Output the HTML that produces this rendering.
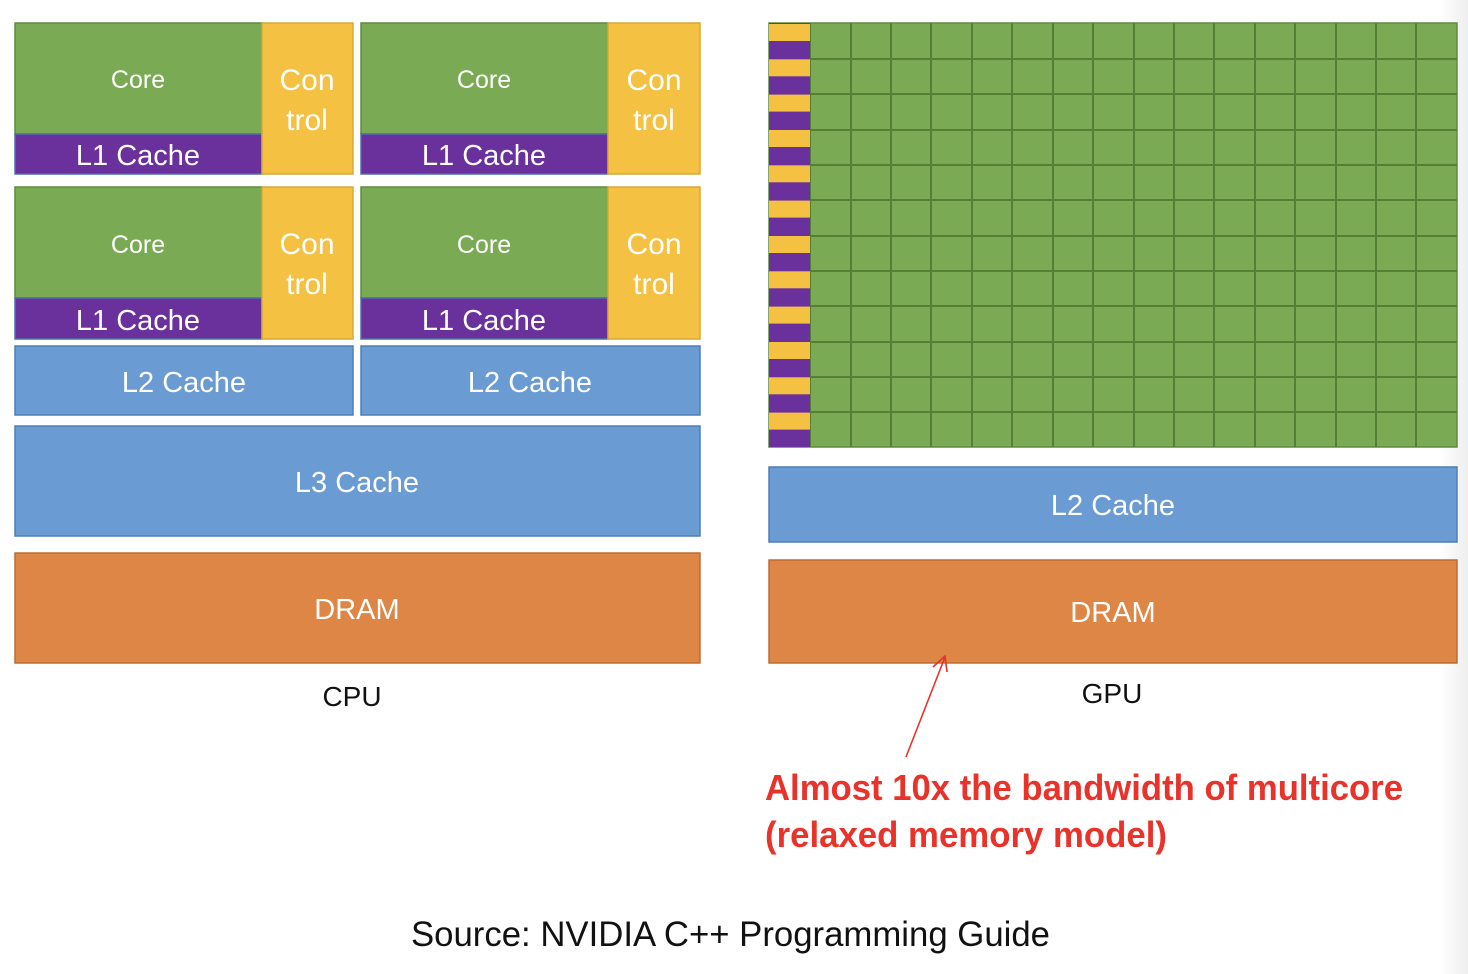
<!DOCTYPE html>
<html><head><meta charset="utf-8"><style>html,body{margin:0;padding:0;background:#fff}svg{display:block}</style></head><body>
<svg width="1468" height="974" viewBox="0 0 1468 974" xmlns="http://www.w3.org/2000/svg" font-family="Liberation Sans, sans-serif">
<defs><linearGradient id="sh" x1="0" x2="1"><stop offset="0" stop-color="#fff"/><stop offset="1" stop-color="#eeeeee"/></linearGradient></defs>
<rect x="1440" y="0" width="28" height="974" fill="url(#sh)"/>
<g id="cpu" fill="#fff" text-anchor="middle">
<!-- block 1 -->
<rect x="15" y="23" width="247" height="111" fill="#7aab54" stroke="#5f8c3f" stroke-width="1.5"/>
<rect x="15" y="134" width="247" height="40" fill="#6a309c" stroke="#4f6fa8" stroke-width="1.5"/>
<rect x="262" y="23" width="91" height="151" fill="#f4c143" stroke="#d9a838" stroke-width="1.5"/>
<text x="138" y="88" font-size="25">Core</text><text x="138" y="165" font-size="29">L1 Cache</text>
<text x="307" y="90" font-size="30">Con</text><text x="307" y="130" font-size="30">trol</text>
<!-- block 2 -->
<rect x="361" y="23" width="247" height="111" fill="#7aab54" stroke="#5f8c3f" stroke-width="1.5"/>
<rect x="361" y="134" width="247" height="40" fill="#6a309c" stroke="#4f6fa8" stroke-width="1.5"/>
<rect x="608" y="23" width="92" height="151" fill="#f4c143" stroke="#d9a838" stroke-width="1.5"/>
<text x="484" y="88" font-size="25">Core</text><text x="484" y="165" font-size="29">L1 Cache</text>
<text x="654" y="90" font-size="30">Con</text><text x="654" y="130" font-size="30">trol</text>
<!-- block 3 -->
<rect x="15" y="187" width="247" height="111" fill="#7aab54" stroke="#5f8c3f" stroke-width="1.5"/>
<rect x="15" y="298" width="247" height="41" fill="#6a309c" stroke="#4f6fa8" stroke-width="1.5"/>
<rect x="262" y="187" width="91" height="152" fill="#f4c143" stroke="#d9a838" stroke-width="1.5"/>
<text x="138" y="253" font-size="25">Core</text><text x="138" y="330" font-size="29">L1 Cache</text>
<text x="307" y="254" font-size="30">Con</text><text x="307" y="294" font-size="30">trol</text>
<!-- block 4 -->
<rect x="361" y="187" width="247" height="111" fill="#7aab54" stroke="#5f8c3f" stroke-width="1.5"/>
<rect x="361" y="298" width="247" height="41" fill="#6a309c" stroke="#4f6fa8" stroke-width="1.5"/>
<rect x="608" y="187" width="92" height="152" fill="#f4c143" stroke="#d9a838" stroke-width="1.5"/>
<text x="484" y="253" font-size="25">Core</text><text x="484" y="330" font-size="29">L1 Cache</text>
<text x="654" y="254" font-size="30">Con</text><text x="654" y="294" font-size="30">trol</text>
<!-- L2/L3/DRAM -->
<rect x="15" y="346" width="338" height="69" fill="#6a9bd2" stroke="#4f7eb5" stroke-width="1.5"/>
<rect x="361" y="346" width="339" height="69" fill="#6a9bd2" stroke="#4f7eb5" stroke-width="1.5"/>
<text x="184" y="392" font-size="29">L2 Cache</text><text x="530" y="392" font-size="29">L2 Cache</text>
<rect x="15" y="426" width="685" height="110" fill="#6a9bd2" stroke="#4f7eb5" stroke-width="1.5"/>
<text x="357" y="492" font-size="29">L3 Cache</text>
<rect x="15" y="553" width="685" height="110" fill="#de8645" stroke="#bd6c32" stroke-width="1.5"/>
<text x="357" y="619" font-size="29">DRAM</text>
<text x="352" y="706" font-size="28" fill="#111">CPU</text>
</g>
<g id="gpu">
<rect x="769" y="23" width="688" height="424" fill="#7aab54" stroke="#5f8c3f" stroke-width="1.5"/>
<g stroke="#557f37" stroke-width="2">
<line x1="810" y1="23" x2="810" y2="447"/><line x1="851" y1="23" x2="851" y2="447"/><line x1="891" y1="23" x2="891" y2="447"/><line x1="931" y1="23" x2="931" y2="447"/><line x1="972" y1="23" x2="972" y2="447"/><line x1="1012" y1="23" x2="1012" y2="447"/><line x1="1053" y1="23" x2="1053" y2="447"/><line x1="1093" y1="23" x2="1093" y2="447"/><line x1="1134" y1="23" x2="1134" y2="447"/><line x1="1174" y1="23" x2="1174" y2="447"/><line x1="1214" y1="23" x2="1214" y2="447"/><line x1="1255" y1="23" x2="1255" y2="447"/><line x1="1295" y1="23" x2="1295" y2="447"/><line x1="1336" y1="23" x2="1336" y2="447"/><line x1="1376" y1="23" x2="1376" y2="447"/><line x1="1416" y1="23" x2="1416" y2="447"/>
<line x1="810" y1="59" x2="1457" y2="59"/><line x1="810" y1="94" x2="1457" y2="94"/><line x1="810" y1="130" x2="1457" y2="130"/><line x1="810" y1="165" x2="1457" y2="165"/><line x1="810" y1="200" x2="1457" y2="200"/><line x1="810" y1="236" x2="1457" y2="236"/><line x1="810" y1="271" x2="1457" y2="271"/><line x1="810" y1="306" x2="1457" y2="306"/><line x1="810" y1="342" x2="1457" y2="342"/><line x1="810" y1="377" x2="1457" y2="377"/><line x1="810" y1="412" x2="1457" y2="412"/>
</g>
<g>
<rect x="769" y="23" width="41" height="424" fill="#6a309c"/>
<g fill="#f4c143">
<rect x="769" y="24" width="41" height="17"/><rect x="769" y="59.3" width="41" height="17"/><rect x="769" y="94.6" width="41" height="17"/><rect x="769" y="130" width="41" height="17"/><rect x="769" y="165.3" width="41" height="17"/><rect x="769" y="200.6" width="41" height="17"/><rect x="769" y="236" width="41" height="17"/><rect x="769" y="271.3" width="41" height="17"/><rect x="769" y="306.6" width="41" height="17"/><rect x="769" y="342" width="41" height="17"/><rect x="769" y="377.3" width="41" height="17"/><rect x="769" y="412.6" width="41" height="17"/>
</g></g>
<rect x="769" y="467" width="688" height="75" fill="#6a9bd2" stroke="#4f7eb5" stroke-width="1.5"/>
<text x="1113" y="515" font-size="29" fill="#fff" text-anchor="middle">L2 Cache</text>
<rect x="769" y="560" width="688" height="103" fill="#de8645" stroke="#bd6c32" stroke-width="1.5"/>
<text x="1113" y="622" font-size="29" fill="#fff" text-anchor="middle">DRAM</text>
<text x="1112" y="703" font-size="28" fill="#111" text-anchor="middle">GPU</text>
</g>
<line x1="906" y1="757" x2="945" y2="657" stroke="#e8322a" stroke-width="1.6"/>
<polyline points="933,667 945,656 947,672" fill="none" stroke="#e8322a" stroke-width="1.6"/>
<text x="765" y="800" font-size="36" font-weight="bold" fill="#e8322a" textLength="638" lengthAdjust="spacingAndGlyphs">Almost 10x the bandwidth of multicore</text>
<text x="765" y="847" font-size="36" font-weight="bold" fill="#e8322a" textLength="402" lengthAdjust="spacingAndGlyphs">(relaxed memory model)</text>
<text x="411" y="946" font-size="35" fill="#111" textLength="639" lengthAdjust="spacingAndGlyphs">Source: NVIDIA C++ Programming Guide</text>
</svg>
</body></html>
